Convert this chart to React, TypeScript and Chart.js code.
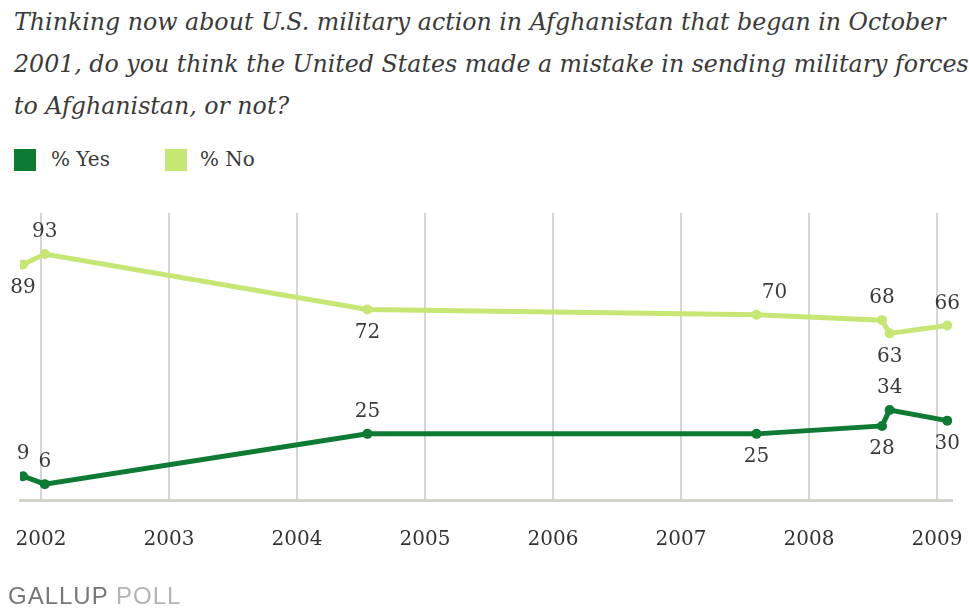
import React, { useEffect, useRef } from "react";
import { Chart, registerables } from "chart.js";

Chart.register(...registerables);

// ---- data ----
const surveyDates = [2001.86, 2002.03, 2004.55, 2007.59, 2008.57, 2008.63, 2009.08];
const yesValues = [9, 6, 25, 25, 28, 34, 30];
const noValues = [89, 93, 72, 70, 68, 63, 66];
const yesLabelPos = ["above", "above", "above", "below", "below", "above", "below"];
const noLabelPos = ["below", "above", "below", "aboveRight", "above", "below", "above"];
const yearTicks = [2002, 2003, 2004, 2005, 2006, 2007, 2008, 2009];
const titleLines = [
  "Thinking now about U.S. military action in Afghanistan that began in October",
  "2001, do you think the United States made a mistake in sending military forces",
  "to Afghanistan, or not?",
];
const seriesNames = ["% Yes", "% No"];

const DARK = "#0e7a34";
const LIGHT = "#c6e676";

const labelPlugin = {
  id: "pointLabels",
  afterDatasetsDraw(chart: any) {
    const ctx = chart.ctx;
    ctx.save();
    ctx.font = "20px 'DejaVu Serif', serif";
    ctx.fillStyle = "#3a3a3a";
    ctx.textAlign = "center";
    ctx.textBaseline = "middle";
    chart.data.datasets.forEach((ds: any, i: number) => {
      const meta = chart.getDatasetMeta(i);
      const pos = ds.labelPos as string[];
      meta.data.forEach((pt: any, j: number) => {
        const p = pos[j];
        let dx = 0;
        let dy = p === "below" ? 23 : -22;
        if (p === "aboveRight") dx = 18;
        ctx.fillText(String(ds.data[j].y), pt.x + dx, pt.y + dy);
      });
    });
    ctx.restore();
  },
};

export default function App() {
  const ref = useRef<HTMLCanvasElement | null>(null);
  useEffect(() => {
    if (!ref.current) return;
    const chart = new Chart(ref.current, {
      type: "line",
      data: {
        datasets: [
          {
            label: seriesNames[0],
            data: surveyDates.map((d, i) => ({ x: d, y: yesValues[i] })),
            borderColor: DARK,
            backgroundColor: DARK,
            borderWidth: 5,
            pointRadius: 5,
            pointBorderWidth: 0,
            tension: 0,
            labelPos: yesLabelPos,
          } as any,
          {
            label: seriesNames[1],
            data: surveyDates.map((d, i) => ({ x: d, y: noValues[i] })),
            borderColor: LIGHT,
            backgroundColor: LIGHT,
            borderWidth: 5,
            pointRadius: 5,
            pointBorderWidth: 0,
            tension: 0,
            labelPos: noLabelPos,
          } as any,
        ],
      },
      options: {
        animation: false,
        responsive: true,
        maintainAspectRatio: false,
        layout: { padding: { top: 213, left: 20, right: 17, bottom: 48 } },
        plugins: {
          legend: { display: false },
          tooltip: { enabled: false },
          title: { display: false },
        },
        scales: {
          x: {
            type: "linear",
            min: 2001.836,
            max: 2009.117,
            afterBuildTicks: (scale: any) => {
              scale.ticks = yearTicks.map((v) => ({ value: v }));
            },
            afterFit: (scale: any) => {
              scale.height = 60;
              scale.paddingLeft = 0;
              scale.paddingRight = 0;
            },
            grid: { color: "#d6d6d6", lineWidth: 2, drawTicks: false },
            border: { display: true, color: "#d3d3cd", width: 3 },
            ticks: {
              padding: 28,
              color: "#333",
              font: { family: "'DejaVu Serif', serif", size: 20 },
              callback: (v: any) => String(v),
              maxRotation: 0,
              autoSkip: false,
            },
          },
          y: {
            display: false,
            min: 0,
            max: 108.5,
          },
        },
      },
      plugins: [labelPlugin],
    } as any);
    return () => chart.destroy();
  }, []);

  return (
    <div style={{ position: "fixed", left: 0, top: 0, width: 969, height: 608, background: "#fff", overflow: "hidden" }}>
      <div
        style={{
          position: "absolute",
          left: 14,
          top: 1,
          fontFamily: "'DejaVu Serif', serif",
          fontStyle: "italic",
          fontSize: 23.7,
          lineHeight: "42px",
          color: "#3a3a3a",
          whiteSpace: "nowrap",
        }}
      >
        {titleLines.map((l, i) => (
          <div key={i}>{l}</div>
        ))}
      </div>
      <div style={{ position: "absolute", left: 14, top: 149, width: 22, height: 22, background: DARK }} />
      <div style={{ position: "absolute", left: 51, top: 145, fontFamily: "'DejaVu Serif', serif", fontSize: 20, lineHeight: "28px", color: "#3a3a3a", whiteSpace: "nowrap" }}>
        {seriesNames[0]}
      </div>
      <div style={{ position: "absolute", left: 165, top: 149, width: 22, height: 22, background: LIGHT }} />
      <div style={{ position: "absolute", left: 200, top: 145, fontFamily: "'DejaVu Serif', serif", fontSize: 20, lineHeight: "28px", color: "#3a3a3a", whiteSpace: "nowrap" }}>
        {seriesNames[1]}
      </div>
      <canvas ref={ref} style={{ position: "absolute", left: 0, top: 0, width: 969, height: 608 }} />
      <div style={{ position: "absolute", left: 8, top: 582, fontFamily: "'Liberation Sans', Arial, sans-serif", fontSize: 24, letterSpacing: 1, lineHeight: "28px", whiteSpace: "nowrap" }}>
        <span style={{ color: "#777" }}>GALLUP</span>
        <span style={{ color: "#b4b4b4" }}> POLL</span>
      </div>
    </div>
  );
}
